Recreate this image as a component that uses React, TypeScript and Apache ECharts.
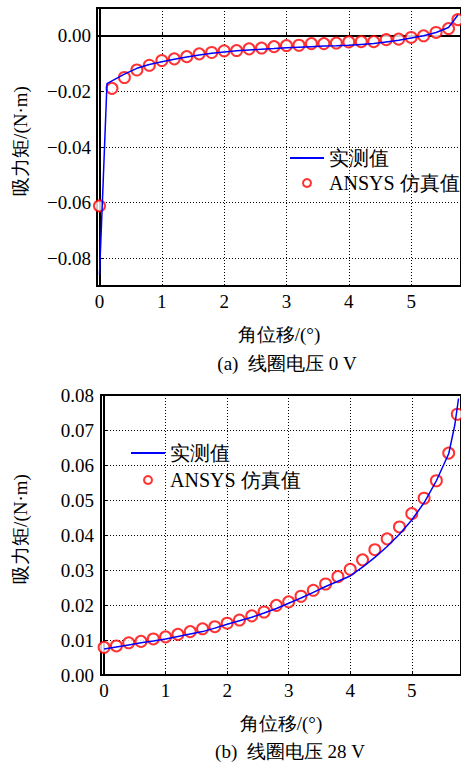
import React, { useEffect, useRef } from "react";
import * as echarts from "echarts";

// Chart (a): coil voltage 0 V
const measA_x = [0, 0.06, 0.12, 0.2, 0.4, 0.6, 0.8, 1.0, 1.2, 1.4, 1.6, 1.8, 2.0, 2.2, 2.4, 2.6, 2.8, 3.0, 3.2, 3.4, 3.6, 3.8, 4.0, 4.2, 4.4, 4.6, 4.8, 5.0, 5.2, 5.4, 5.6, 5.75];
const measA_y = [-0.086, -0.052, -0.0172, -0.0162, -0.0138, -0.0117, -0.0103, -0.0093, -0.0084, -0.0076, -0.0069, -0.0063, -0.0058, -0.0054, -0.0051, -0.0048, -0.0046, -0.0043, -0.0041, -0.0039, -0.0037, -0.0036, -0.0034, -0.0031, -0.0028, -0.0022, -0.0016, -0.0008, 0.0000, 0.0012, 0.0030, 0.0075];
const simA_x = [0, 0.2, 0.4, 0.6, 0.8, 1.0, 1.2, 1.4, 1.6, 1.8, 2.0, 2.2, 2.4, 2.6, 2.8, 3.0, 3.2, 3.4, 3.6, 3.8, 4.0, 4.2, 4.4, 4.6, 4.8, 5.0, 5.2, 5.4, 5.6, 5.75];
const simA_y = [-0.0612, -0.0189, -0.0150, -0.0123, -0.0106, -0.0089, -0.0083, -0.0075, -0.0065, -0.0060, -0.0054, -0.0053, -0.0047, -0.0044, -0.0039, -0.0035, -0.0034, -0.0028, -0.0028, -0.0026, -0.0022, -0.0021, -0.0021, -0.0014, -0.0012, -0.0006, 0.0000, 0.0012, 0.0026, 0.0058];

// Chart (b): coil voltage 28 V
const measB_x = [0, 0.2, 0.4, 0.6, 0.8, 1.0, 1.2, 1.4, 1.6, 1.8, 2.0, 2.2, 2.4, 2.6, 2.8, 3.0, 3.2, 3.4, 3.6, 3.8, 4.0, 4.2, 4.4, 4.6, 4.8, 5.0, 5.2, 5.4, 5.6, 5.7, 5.76];
const measB_y = [0.0074, 0.0080, 0.0086, 0.0092, 0.0097, 0.0103, 0.0110, 0.0117, 0.0124, 0.0134, 0.0145, 0.0155, 0.0165, 0.0177, 0.0190, 0.0205, 0.0220, 0.0236, 0.0253, 0.0268, 0.0283, 0.0308, 0.0336, 0.0367, 0.0402, 0.0443, 0.0492, 0.0555, 0.0632, 0.0715, 0.0790];
const simB_x = [0, 0.2, 0.4, 0.6, 0.8, 1.0, 1.2, 1.4, 1.6, 1.8, 2.0, 2.2, 2.4, 2.6, 2.8, 3.0, 3.2, 3.4, 3.6, 3.8, 4.0, 4.2, 4.4, 4.6, 4.8, 5.0, 5.2, 5.4, 5.6, 5.74];
const simB_y = [0.0079, 0.0083, 0.0092, 0.0096, 0.0103, 0.0109, 0.0116, 0.0124, 0.0132, 0.0138, 0.0148, 0.0157, 0.0169, 0.0180, 0.0199, 0.0209, 0.0225, 0.0242, 0.0260, 0.0281, 0.0302, 0.0329, 0.0358, 0.0389, 0.0423, 0.0461, 0.0505, 0.0555, 0.0634, 0.0745];

const legendNames = ["实测值", "ANSYS 仿真值"];
const xName = "角位移/(°)";
const yName = "吸力矩/(N·m)";
const captions = ["(a)  线圈电压 0 V", "(b)  线圈电压 28 V"];

const FONT = "Liberation Serif";
const TXT = "#000";
const TICK_FS = 19;
const NAME_FS = 19;

const zip = (xs: number[], ys: number[]) => xs.map((x, i) => [x, ys[i]]);

const isMult = (v: number, step: number) => Math.abs(v / step - Math.round(v / step)) < 1e-6;

export default function App() {
  const ref = useRef<HTMLDivElement>(null);
  useEffect(() => {
    document.body.style.margin = "0";
    const chart = echarts.init(ref.current!, undefined, { renderer: "svg" });
    const axisCommon = {
      axisLine: { show: true, lineStyle: { color: "#000", width: 2 } },
      axisTick: { show: true, inside: true, length: 4, lineStyle: { color: "#000" } },
      splitLine: { show: true, lineStyle: { color: "#000", type: [1, 2], width: 1 } },
    };
    const xNameStyle = { color: TXT, fontFamily: FONT, fontSize: NAME_FS };
    const yNameStyle = { color: TXT, fontFamily: FONT, fontSize: NAME_FS, padding: [0, 0, 0, 12] };
    const xFmt = (v: number) => (isMult(v, 1) ? String(Math.round(v)) : "");
    const legendData = [
      { name: legendNames[0], itemStyle: { opacity: 0, color: "rgba(0,0,0,0)", borderColor: "rgba(0,0,0,0)" } },
      { name: legendNames[1] },
    ];
    const legendCommon = {
      data: legendData,
      orient: "vertical",
      itemWidth: 34,
      itemHeight: 8,
      textStyle: { color: TXT, fontFamily: FONT, fontSize: 20, lineHeight: 22 },
    };
    const option: any = {
      animation: false,
      textStyle: { fontFamily: FONT },
      grid: [
        { left: 97, top: 8, width: 365, height: 278, show: true, borderColor: "#000", borderWidth: 2 },
        { left: 101, top: 395, width: 361, height: 280, show: true, borderColor: "#000", borderWidth: 2 },
      ],
      xAxis: [
        {
          ...axisCommon,
          type: "value",
          gridIndex: 0,
          min: -0.04,
          max: 5.8,
          splitNumber: 6,
          name: xName,
          nameLocation: "middle",
          nameGap: 39,
          nameTextStyle: xNameStyle,
          axisLabel: { color: TXT, fontFamily: FONT, fontSize: TICK_FS, margin: 6, formatter: xFmt, showMinLabel: false, showMaxLabel: false },
        },
        {
          ...axisCommon,
          type: "value",
          gridIndex: 1,
          min: -0.05,
          max: 5.8,
          splitNumber: 6,
          name: xName,
          nameLocation: "middle",
          nameGap: 39,
          nameTextStyle: xNameStyle,
          axisLabel: { color: TXT, fontFamily: FONT, fontSize: TICK_FS, margin: 6, formatter: xFmt, showMinLabel: false, showMaxLabel: false },
        },
      ],
      yAxis: [
        {
          ...axisCommon,
          type: "value",
          gridIndex: 0,
          min: -0.09,
          max: 0.01,
          splitNumber: 5,
          name: yName,
          nameLocation: "middle",
          nameGap: 67,
          nameTextStyle: yNameStyle,
          axisLabel: {
            color: TXT,
            fontFamily: FONT,
            fontSize: TICK_FS,
            margin: 6,
            showMinLabel: false,
            showMaxLabel: false,
            formatter: (v: number) => (isMult(v, 0.02) ? v.toFixed(2).replace("-", "\u2212") : ""),
          },
        },
        {
          ...axisCommon,
          type: "value",
          gridIndex: 1,
          min: 0,
          max: 0.08,
          interval: 0.01,
          name: yName,
          nameLocation: "middle",
          nameGap: 71,
          nameTextStyle: yNameStyle,
          axisLabel: {
            color: TXT,
            fontFamily: FONT,
            fontSize: TICK_FS,
            margin: 7,
            formatter: (v: number) => v.toFixed(2),
          },
        },
      ],
      legend: [
        { ...legendCommon, left: 284, top: 142, itemGap: 3 },
        { ...legendCommon, left: 125, top: 437, itemGap: 5 },
      ],
      series: [
        {
          name: legendNames[0],
          type: "line",
          xAxisIndex: 0,
          yAxisIndex: 0,
          data: zip(measA_x, measA_y),
          symbol: "none",
          lineStyle: { color: "#0000ff", width: 1.5 },
          itemStyle: { color: "#0000ff" },
        },
        {
          name: legendNames[1],
          type: "scatter",
          xAxisIndex: 0,
          yAxisIndex: 0,
          data: zip(simA_x, simA_y),
          symbol: "emptyCircle",
          symbolSize: 11,
          itemStyle: { color: "#ff0000", borderColor: "#ff0000", borderWidth: 1.3 },
        },
        {
          name: legendNames[0],
          type: "line",
          xAxisIndex: 1,
          yAxisIndex: 1,
          data: zip(measB_x, measB_y),
          symbol: "none",
          lineStyle: { color: "#0000ff", width: 1.5 },
          itemStyle: { color: "#0000ff" },
        },
        {
          name: legendNames[1],
          type: "scatter",
          xAxisIndex: 1,
          yAxisIndex: 1,
          data: zip(simB_x, simB_y),
          symbol: "emptyCircle",
          symbolSize: 11,
          itemStyle: { color: "#ff0000", borderColor: "#ff0000", borderWidth: 1.3 },
        },
      ],
      graphic: [
        {
          type: "text",
          x: 287,
          y: 363,
          style: { text: captions[0], fill: TXT, fontFamily: FONT, fontSize: 19, align: "center", verticalAlign: "middle" },
        },
        {
          type: "text",
          x: 290,
          y: 751,
          style: { text: captions[1], fill: TXT, fontFamily: FONT, fontSize: 19, align: "center", verticalAlign: "middle" },
        },
      ],
    };
    chart.setOption(option);
    return () => chart.dispose();
  }, []);
  return <div ref={ref} style={{ position: "absolute", left: 0, top: 0, width: 461, height: 762 }} />;
}
